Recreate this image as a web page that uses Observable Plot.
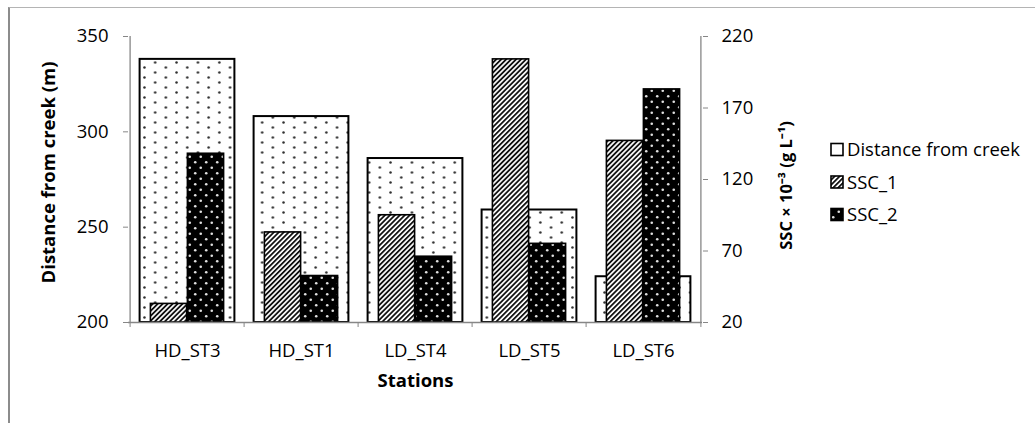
<!DOCTYPE html>
<html>
<head>
<meta charset="utf-8">
<script src="https://cdn.jsdelivr.net/npm/d3@7"></script>
<script src="https://cdn.jsdelivr.net/npm/@observablehq/plot@0.6"></script>
<style>
  html, body { margin: 0; padding: 0; background: #fff; }
  #wrap { position: relative; width: 1035px; height: 423px; overflow: hidden; font-family: "Open Sans", sans-serif; }
  #frame { position: absolute; left: 8px; top: 7px; width: 1100px; height: 500px;
           border-top: 1px solid #b4b4b4; border-left: 2px solid #8c8c8c; box-sizing: border-box; }
  #chart { position: absolute; left: 0; top: 0; }
</style>
</head>
<body>
<div id="wrap"><div id="frame"></div><div id="chart"></div></div>
<script>
// ---- data ----
const stations = ["HD_ST3", "HD_ST1", "LD_ST4", "LD_ST5", "LD_ST6"];
const distance = [338, 308, 286, 259, 224];        // left axis (m)
const ssc1 = [33, 83, 95, 204, 147];                // right axis (×10^-3 g/L)
const ssc2 = [138, 52.5, 66, 75, 183];
const leftTicks = [200, 250, 300, 350];
const rightTicks = [20, 70, 120, 170, 220];
const seriesNames = ["Distance from creek", "SSC_1", "SSC_2"];
const xTitle = "Stations";
const yTitleLeft = "Distance from creek (m)";
const yTitleRight = "SSC × 10⁻³ (g L⁻¹)";

// ---- dual-axis mapping (right domain 20..220 onto left 200..350) ----
const L0 = 200, L1 = 350, R0 = 20, R1 = 220;
const toLeft = v => L0 + (v - R0) * (L1 - L0) / (R1 - R0);
const fromLeft = v => R0 + (v - L0) * (R1 - R0) / (L1 - L0);

const rows = stations.map((s, i) => ({
  station: s, distance: distance[i], s1: toLeft(ssc1[i]), s2: toLeft(ssc2[i])
}));

// ---- layout ----
const W = 1035, H = 423, mL = 128, mR = 333, mT = 36, mB = 101;
const bw = (W - mL - mR) / stations.length;
const distInset = 9.6;
const pairW = 74;
const side = (bw - pairW) / 2;
const axisGray = "#868686";
const FS = 18.5;

const plot = Plot.plot({
  width: W, height: H,
  marginLeft: mL, marginRight: mR, marginTop: mT, marginBottom: mB,
  x: { domain: stations, padding: 0, axis: null },
  y: { domain: [L0, L1], axis: null },
  style: { fontFamily: "Open Sans", fontSize: FS + "px", color: "black", background: "transparent", overflow: "visible" },
  marks: [
    Plot.barY(rows, { x: "station", y1: L0, y2: "distance", fill: "url(#pDots)", stroke: "black", strokeWidth: 2,
      insetLeft: distInset, insetRight: distInset }),
    Plot.barY(rows, { x: "station", y1: L0, y2: "s1", fill: "url(#pHatch)", stroke: "black", strokeWidth: 1.6,
      insetLeft: side, insetRight: side + pairW / 2 }),
    Plot.barY(rows, { x: "station", y1: L0, y2: "s2", fill: "url(#pDark)", stroke: "black", strokeWidth: 1.6,
      insetLeft: side + pairW / 2, insetRight: side }),
    // axis lines
    Plot.ruleY([L0], { stroke: axisGray, strokeWidth: 1.3 }),
    Plot.ruleX([stations[0]], { y1: L0, y2: L1, dx: -bw / 2, stroke: axisGray, strokeWidth: 1.3 }),
    Plot.ruleX([stations[stations.length - 1]], { y1: L0, y2: L1, dx: bw / 2, stroke: axisGray, strokeWidth: 1.3 }),
    // left axis
    Plot.axisY({ anchor: "left", ticks: leftTicks, tickSize: 5, tickPadding: 15, stroke: axisGray, fill: "black",
      fontSize: FS, label: null }),
    // right axis
    Plot.axisY({ anchor: "right", ticks: rightTicks.map(toLeft), tickFormat: d => String(Math.round(fromLeft(d))),
      tickSize: 5, tickPadding: 14, stroke: axisGray, fill: "black", fontSize: FS, label: null }),
    // x labels and boundary ticks
    Plot.axisX({ ticks: stations, tickSize: 0, tickPadding: 21, fill: "black", fontSize: FS, label: null }),
    Plot.axisX({ ticks: stations, tickFormat: () => "", tickSize: 5, dx: -bw / 2, stroke: axisGray, label: null }),
    Plot.axisX({ ticks: [stations[stations.length - 1]], tickFormat: () => "", tickSize: 5, dx: bw / 2, stroke: axisGray, label: null }),
    // titles
    Plot.text([xTitle], { text: d => d, frameAnchor: "bottom", dy: 64, fontWeight: "bold", fontSize: FS }),
    Plot.text([yTitleLeft], { text: d => d, frameAnchor: "left", textAnchor: "middle", lineAnchor: "middle",
      dx: -79, dy: -7, rotate: -90, fontWeight: "bold", fontSize: FS }),
    Plot.text([yTitleRight], { text: d => d, frameAnchor: "right", textAnchor: "middle", lineAnchor: "middle",
      dx: 84, dy: 6, rotate: -90, fontWeight: "bold", fontSize: 16.5 })
  ]
});

// ---- patterns ----
const svg = d3.select(plot);
const defs = svg.insert("defs", ":first-child");
const pd = defs.append("pattern").attr("id", "pDots").attr("patternUnits", "userSpaceOnUse")
  .attr("width", 21.4).attr("height", 10);
pd.append("rect").attr("width", 21.4).attr("height", 10).attr("fill", "white");
pd.append("circle").attr("cx", 5.35).attr("cy", 2.5).attr("r", 1.25).attr("fill", "#2e2e2e");
pd.append("circle").attr("cx", 16.05).attr("cy", 7.5).attr("r", 1.25).attr("fill", "#2e2e2e");

const ph = defs.append("pattern").attr("id", "pHatch").attr("patternUnits", "userSpaceOnUse")
  .attr("width", 3.5).attr("height", 10).attr("patternTransform", "rotate(45)");
ph.append("rect").attr("width", 3.5).attr("height", 10).attr("fill", "white");
ph.append("rect").attr("width", 1.8).attr("height", 10).attr("fill", "#111");

const pk = defs.append("pattern").attr("id", "pDark").attr("patternUnits", "userSpaceOnUse")
  .attr("width", 11).attr("height", 11);
pk.append("rect").attr("width", 11).attr("height", 11).attr("fill", "black");
pk.append("circle").attr("cx", 2.75).attr("cy", 2.75).attr("r", 1.3).attr("fill", "#e0e0e0");
pk.append("circle").attr("cx", 8.25).attr("cy", 8.25).attr("r", 1.3).attr("fill", "#e0e0e0");

// ---- legend ----
const fills = ["white", "url(#pHatch)", "url(#pDark)"];
const legY = [149.5, 182, 214.5];
const lg = svg.append("g").attr("font-family", "Open Sans").attr("font-size", FS).attr("text-anchor", "start");
seriesNames.forEach((name, i) => {
  lg.append("rect").attr("x", 831).attr("y", legY[i] - 6).attr("width", 12).attr("height", 12)
    .attr("fill", fills[i]).attr("stroke", "black").attr("stroke-width", 1.6);
  lg.append("text").attr("x", 847).attr("y", legY[i]).attr("dy", "0.36em").attr("text-anchor", "start")
    .attr("fill", "black").text(name);
});

document.getElementById("chart").appendChild(plot);
</script>
</body>
</html>
